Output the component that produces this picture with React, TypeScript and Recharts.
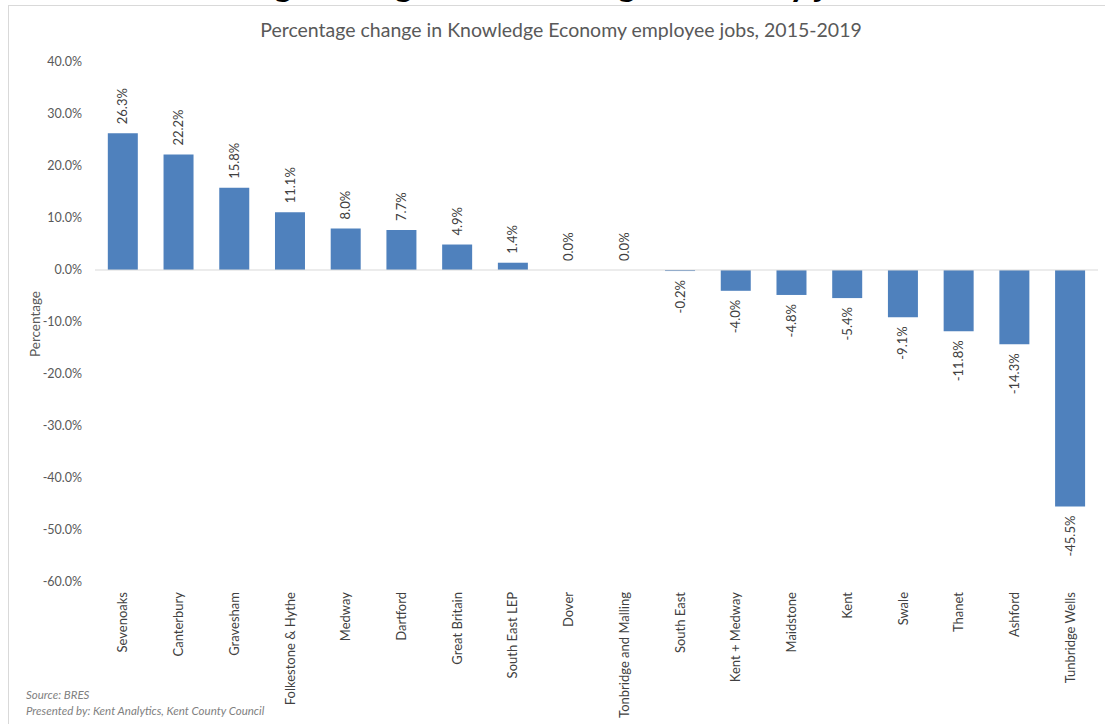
import React from "react"
import { BarChart, Bar, XAxis, YAxis, ReferenceLine, LabelList } from "recharts"

const areas = [
  "Sevenoaks",
  "Canterbury",
  "Gravesham",
  "Folkestone & Hythe",
  "Medway",
  "Dartford",
  "Great Britain",
  "South East LEP",
  "Dover",
  "Tonbridge and Malling",
  "South East",
  "Kent + Medway",
  "Maidstone",
  "Kent",
  "Swale",
  "Thanet",
  "Ashford",
  "Tunbridge Wells",
]

const changePct = [26.3, 22.2, 15.8, 11.1, 8.0, 7.7, 4.9, 1.4, 0.0, 0.0, -0.2, -4.0, -4.8, -5.4, -9.1, -11.8, -14.3, -45.5]

const yTicks = [-60, -50, -40, -30, -20, -10, 0, 10, 20, 30, 40]

const data = areas.map((name, i) => ({ name, value: changePct[i] }))

const FONT = "Lato, 'Open Sans', sans-serif"
const pct = (v: number) => `${v.toFixed(1)}%`

const YTick = ({ x, y, payload }: any) => (
  <text x={x - 5} y={y} dy="0.35em" textAnchor="end" fontSize={12.5} fill="#595959" fontFamily={FONT}>
    {pct(payload.value)}
  </text>
)

const XTick = ({ x, y, payload }: any) => (
  <text
    x={x}
    y={y + 2}
    dy="0.35em"
    textAnchor="end"
    transform={`rotate(-90, ${x}, ${y + 2})`}
    fontSize={13}
    fill="#404040"
    fontFamily={FONT}
  >
    {payload.value}
  </text>
)

const BarLabel = (props: any) => {
  const { x, y, width, height, value } = props
  const top = Math.min(y, y + height)
  const bottom = Math.max(y, y + height)
  const cx = x + width / 2
  const neg = value < 0
  const ly = neg ? bottom + 9 : top - 9
  return (
    <text
      x={cx}
      y={ly}
      dy="0.35em"
      textAnchor={neg ? "end" : "start"}
      transform={`rotate(-90, ${cx}, ${ly})`}
      fontSize={13}
      fill="#404040"
      fontFamily={FONT}
    >
      {pct(value)}
    </text>
  )
}

export default function App() {
  return (
    <div style={{ position: "absolute", left: 0, top: 0, width: 1105, height: 724, overflow: "hidden", background: "#fff", fontFamily: FONT }}>
      <div style={{ position: "absolute", left: 8, top: 5, width: 1200, height: 800, border: "1px solid #d9d9d9" }} />
      <svg style={{ position: "absolute", left: 0, top: 0 }} width={1105} height={40}>
        <text x={135} y={-4} fontSize={38} fontWeight={700} fill="#000" fontFamily={FONT} textLength={745} lengthAdjust="spacingAndGlyphs">
          Percentage change in Knowledge Economy jobs
        </text>
        <text x={561} y={37} fontSize={19.5} fill="#595959" textAnchor="middle" fontFamily={FONT}>
          Percentage change in Knowledge Economy employee jobs, 2015-2019
        </text>
      </svg>
      <div style={{ position: "absolute", left: 0, top: 0 }}>
        <BarChart width={1105} height={724} data={data} margin={{ top: 62, right: 7, bottom: 0, left: 0 }} barCategoryGap="23%">
          <XAxis dataKey="name" interval={0} tickLine={false} axisLine={false} height={142} tick={<XTick />} />
          <YAxis
            width={95}
            domain={[-60, 40]}
            ticks={yTicks}
            tickLine={false}
            axisLine={false}
            tick={<YTick />}
            label={{
              content: () => (
                <text x={35} y={324} textAnchor="middle" dy="0.35em" transform="rotate(-90, 35, 324)" fontSize={13.5} fill="#595959" fontFamily={FONT}>
                  Percentage
                </text>
              ),
            }}
          />
          <ReferenceLine y={0} stroke="#d9d9d9" strokeWidth={1} />
          <Bar dataKey="value" fill="#4F81BD" minPointSize={0.01} isAnimationActive={false}>
            <LabelList dataKey="value" content={<BarLabel />} />
          </Bar>
        </BarChart>
      </div>
      <div style={{ position: "absolute", left: 26, top: 687, fontSize: 11.5, fontStyle: "italic", color: "#7f7f7f", lineHeight: "16px" }}>
        <div>Source: BRES</div>
        <div>Presented by: Kent Analytics, Kent County Council</div>
      </div>
    </div>
  )
}
